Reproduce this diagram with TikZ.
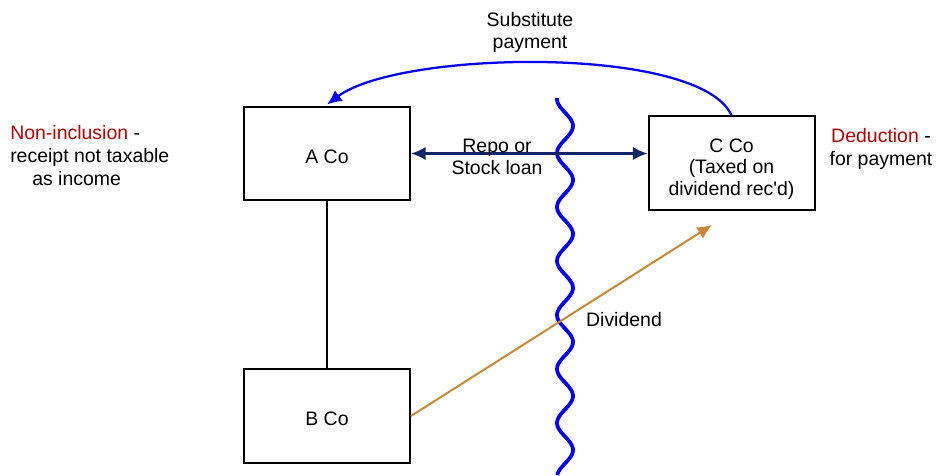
\documentclass[tikz,border=0pt]{standalone}
\usepackage{fontspec}
\setmainfont{Liberation Sans}
\usetikzlibrary{arrows.meta}
\definecolor{loanblue}{RGB}{16,38,102}
\definecolor{divbrown}{RGB}{204,136,51}
\definecolor{notered}{RGB}{192,0,0}
\tikzset{
  company/.style={draw,line width=1.5pt,minimum width=124.5pt,minimum height=70pt,inner sep=0pt,align=center},
  lbl/.style={inner sep=0pt,align=center},
  tip/.style={-{Latex[length=11pt,width=10pt]}},
}
\newcommand{\pushdown}[1]{\rule{0pt}{#1}}
\begin{document}
\begin{tikzpicture}[x=0.75pt,y=-0.75pt,font=\fontsize{14.6}{17.25}\selectfont]
  \useasboundingbox (0,0) rectangle (937,475);
  % companies
  \node[company] (A) at (327,153.5) {\pushdown{15pt}A Co};
  \node[company] (B) at (327,416) {\pushdown{15pt}B Co};
  \node[company,font=\fontsize{14.6}{15.8}\selectfont] (C) at (731.5,163) {\pushdown{19.5pt}C Co\\(Taxed on\\dividend rec\textquotesingle d)};
  \draw[line width=1.2pt] (A) -- (B);
  % border between the two countries
  \draw[blue,line width=2.8pt] plot[domain=98:475,samples=200,smooth] ({565-8*cos(6.6667*(\x-153))},\x);
  % repo or stock loan
  \draw[loanblue,line width=1.6pt,{Latex[length=11pt,width=10pt]}-{Latex[length=11pt,width=10pt]}] (A.east) -- (A.east -| C.west);
  \node[lbl,font=\fontsize{14.6}{16.5}\selectfont] (loan) at (497,157) {Repo or\\Stock loan};
  % substitute payment
  \draw[blue,line width=1.7pt,tip] (C.north) .. controls (700,45) and (400,50) .. ([yshift=1pt]A.north);
  \node[lbl,font=\fontsize{14.6}{16.5}\selectfont] (subst) at (530,32) {Substitute\\payment};
  % dividend
  \coordinate (divend) at (712,225);
  \draw[divbrown,line width=1.5pt,tip] (B.east) -- (divend);
  \node[lbl] (div) at (624,320) {Dividend};
  % tax treatment
  \node[lbl,anchor=west,align=left] (noninc) at (10,156) {\textcolor{notered}{Non-inclusion} -\\receipt not taxable\\\hspace*{16.5pt}as income};
  \node[lbl] (deduct) at (881,148.5) {\textcolor{notered}{Deduction} -\\for payment};
\end{tikzpicture}
\end{document}
